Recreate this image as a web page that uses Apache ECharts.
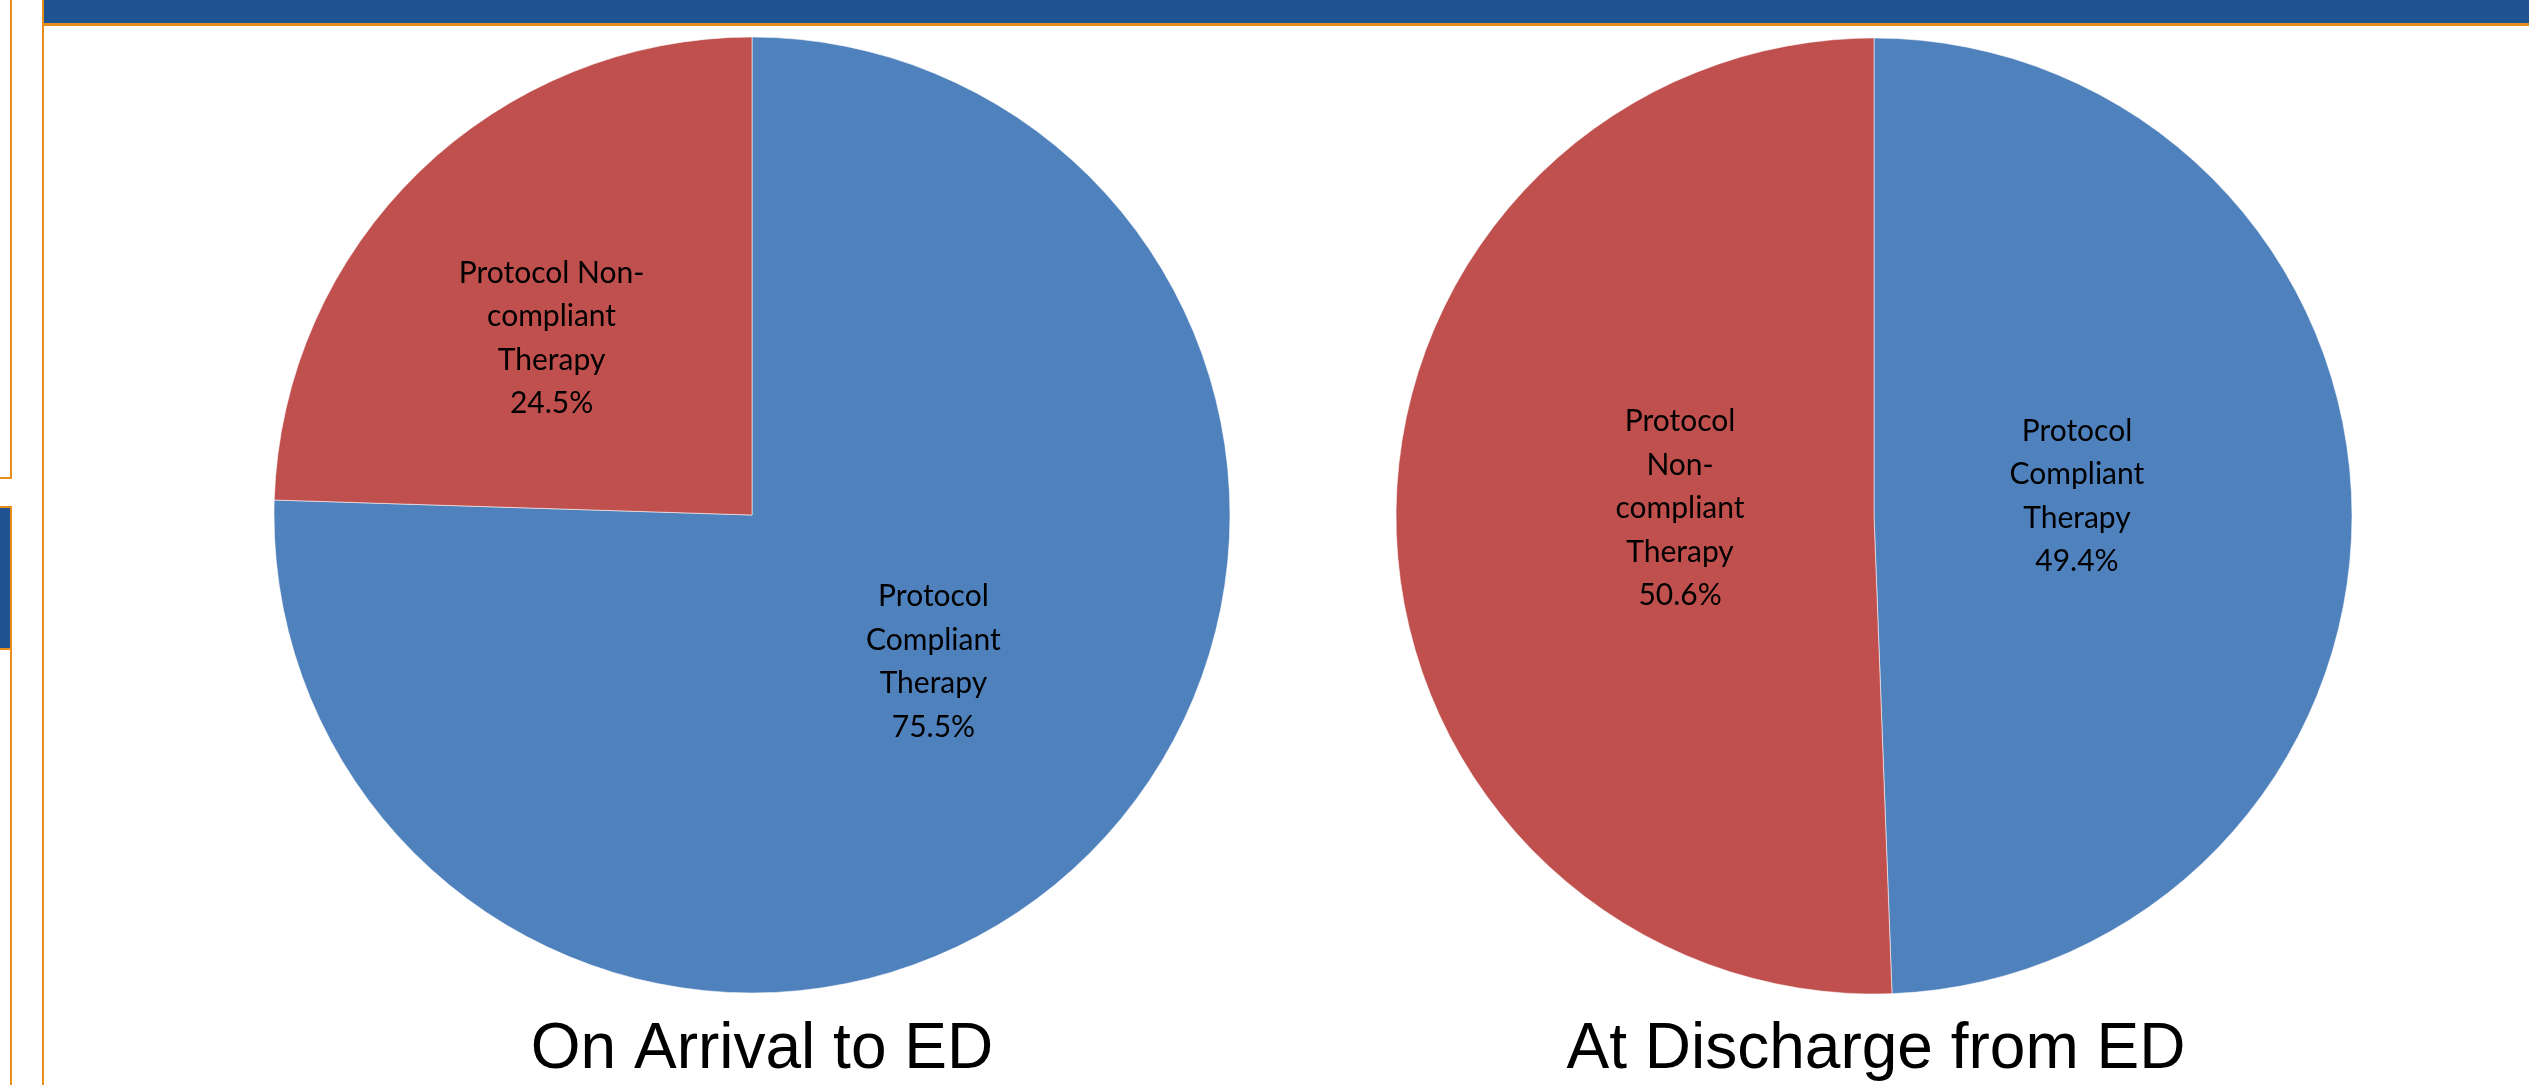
<!DOCTYPE html>
<html>
<head>
<meta charset="utf-8">
<script src="https://cdn.jsdelivr.net/npm/echarts@6/dist/echarts.min.js"></script>
<style>
  html, body { margin: 0; padding: 0; background: #ffffff; }
  #chart { width: 2529px; height: 1085px; }
</style>
</head>
<body>
<div id="chart"></div>
<script>
// ---- data ----
const categories = ['Protocol Compliant Therapy', 'Protocol Non-compliant Therapy'];
const arrivalValues = [75.5, 24.5];
const dischargeValues = [49.4, 50.6];
const chartTitles = ['On Arrival to ED', 'At Discharge from ED'];
const arrivalLabelText = ['Protocol\nCompliant\nTherapy', 'Protocol Non-\ncompliant\nTherapy'];
const dischargeLabelText = ['Protocol\nCompliant\nTherapy', 'Protocol\nNon-\ncompliant\nTherapy'];

// ---- layout / style ----
const sliceColors = ['#4F81BD', '#C0504D'];
const pieCenters = [[752, 515], [1874, 516]];
const pieRadius = 478;
const labelShift = [
  [[13, -27], [-32, -3]],
  [[-39, -15], [48, -12]]
];
const orange = '#E68E19';
const navy = '#1F5392';

function buildPie(idx, values, labelText) {
  return {
    type: 'pie',
    center: pieCenters[idx],
    radius: pieRadius,
    startAngle: 90,
    clockwise: true,
    percentPrecision: 1,
    silent: true,
    data: categories.map((c, i) => ({
      name: c,
      value: values[i],
      itemStyle: { color: sliceColors[i] }
    })),
    itemStyle: { borderColor: 'rgba(255,255,255,0.55)', borderWidth: 1 },
    label: {
      show: true,
      position: 'inside',
      color: '#000000',
      fontFamily: 'Lato',
      fontSize: 30,
      lineHeight: 43.5,
      align: 'center',
      formatter: p => labelText[p.dataIndex] + '\n' + p.percent.toFixed(1) + '%'
    },
    labelLine: { show: false },
    labelLayout: params => ({
      dx: labelShift[idx][params.dataIndex][0],
      dy: labelShift[idx][params.dataIndex][1]
    }),
    emphasis: { disabled: true }
  };
}

const chart = echarts.init(document.getElementById('chart'), null, { renderer: 'canvas' });
chart.setOption({
  animation: false,
  backgroundColor: '#ffffff',
  title: chartTitles.map((t, i) => ({
    text: t,
    left: (i === 0 ? 757 : 1871),
    top: 1013,
    textAlign: 'center',
    textStyle: { fontFamily: 'Liberation Sans', fontSize: 64, fontWeight: 'normal', color: '#000000' }
  })),
  graphic: [
    { type: 'rect', z: -10, shape: { x: 44, y: 0, width: 2485, height: 23 }, style: { fill: navy } },
    { type: 'rect', z: -9, shape: { x: 42, y: 23, width: 2487, height: 3 }, style: { fill: orange } },
    { type: 'rect', z: -9, shape: { x: 42, y: 0, width: 2, height: 1085 }, style: { fill: orange } },
    { type: 'rect', z: -9, shape: { x: 10, y: 0, width: 2, height: 479 }, style: { fill: orange } },
    { type: 'rect', z: -9, shape: { x: 0, y: 477, width: 12, height: 2 }, style: { fill: orange } },
    { type: 'rect', z: -9, shape: { x: 0, y: 506, width: 12, height: 144 }, style: { fill: orange } },
    { type: 'rect', z: -8, shape: { x: 0, y: 508, width: 10, height: 140 }, style: { fill: navy } },
    { type: 'rect', z: -9, shape: { x: 10, y: 650, width: 2, height: 435 }, style: { fill: orange } }
  ],
  series: [
    buildPie(0, arrivalValues, arrivalLabelText),
    buildPie(1, dischargeValues, dischargeLabelText)
  ]
});
</script>
</body>
</html>
